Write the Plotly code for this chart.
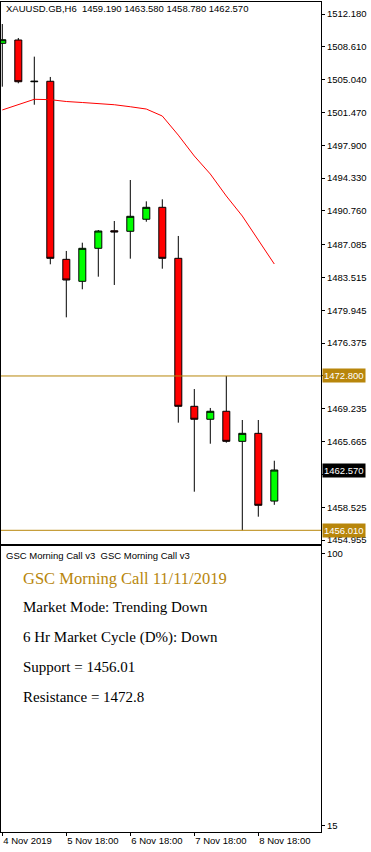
import plotly.graph_objects as go

# ---- data (XAUUSD H6) ----
bar_times = ["4 Nov 18:00", "5 Nov 00:00", "5 Nov 06:00", "5 Nov 12:00", "5 Nov 18:00",
             "6 Nov 00:00", "6 Nov 06:00", "6 Nov 12:00", "6 Nov 18:00", "7 Nov 00:00",
             "7 Nov 06:00", "7 Nov 12:00", "7 Nov 18:00", "8 Nov 00:00", "8 Nov 06:00",
             "8 Nov 12:00", "8 Nov 18:00", "11 Nov 00:00"]
opens = [1508.99, 1509.35, 1504.81, 1504.86, 1485.49, 1483.10, 1486.69, 1488.60, 1488.54,
         1489.85, 1491.15, 1485.60, 1469.50, 1468.09, 1468.96, 1465.69, 1466.56, 1459.19]
highs = [1511.09, 1509.57, 1507.54, 1505.33, 1486.40, 1487.30, 1488.68, 1489.66, 1494.12,
         1491.80, 1492.02, 1488.03, 1471.38, 1469.32, 1472.80, 1468.01, 1468.01, 1463.58]
lows = [1504.27, 1504.64, 1502.31, 1484.95, 1479.18, 1482.23, 1483.60, 1482.70, 1485.56,
        1489.58, 1484.47, 1467.72, 1460.21, 1465.43, 1465.54, 1456.01, 1457.49, 1458.78]
closes = [1509.38, 1504.81, 1504.86, 1485.60, 1483.24, 1486.69, 1488.57, 1488.47, 1490.17,
          1491.15, 1485.60, 1469.50, 1468.09, 1468.96, 1465.69, 1466.56, 1458.73, 1462.57]
ma_values = [1501.74, 1502.33, 1502.90, 1502.86, 1502.66, 1502.55, 1502.46, 1502.31, 1502.09,
             1501.84, 1501.08, 1499.00, 1496.73, 1494.77, 1492.38, 1490.20, 1487.59, 1484.98]

support = 1456.01
resistance = 1472.80
last_price = 1462.57

price_ticks = [1512.180, 1508.610, 1505.040, 1501.470, 1497.900, 1494.330, 1490.760,
               1487.085, 1483.515, 1479.945, 1476.375, 1472.805, 1469.235, 1465.665,
               1462.095, 1458.525, 1454.955]
hidden_ticks = [1472.805, 1462.095]   # covered by the price boxes
sub_ticks = [100, 15]
x_tick_idx = [0, 4, 8, 12, 16]
x_tick_labels = ["4 Nov 2019", "5 Nov 18:00", "6 Nov 18:00", "7 Nov 18:00", "8 Nov 18:00"]

header = "XAUUSD.GB,H6\u00a0 1459.190 1463.580 1458.780 1462.570"
ind_name = "GSC Morning Call v3\u00a0 GSC Morning Call v3"
title_line = "GSC Morning Call 11/11/2019"
info_lines = ["Market Mode: Trending Down",
              "6 Hr Market Cycle (D%): Down",
              "Support = 1456.01",
              "Resistance = 1472.8"]

GOLD = "#B8860B"
SANS = "Liberation Sans, Arial, sans-serif"
SERIF = "Liberation Serif, Times New Roman, serif"
FS = 9.5

W, H = 371, 852
ML, MR, MT, MB = 1, 50, 2, 20
PH = H - MT - MB


def py(pix):  # pixel y -> paper y
    return (H - MB - pix) / PH


def px(pix):  # pixel x -> paper x
    return (pix - ML) / (W - ML - MR)


idx = list(range(len(bar_times)))

fig = go.Figure()
fig.add_trace(go.Candlestick(
    x=idx, open=opens, high=highs, low=lows, close=closes,
    increasing=dict(line=dict(color="black", width=1), fillcolor="#00FF00"),
    decreasing=dict(line=dict(color="black", width=1), fillcolor="#FF0000"),
    whiskerwidth=0, showlegend=False, hoverinfo="skip",
    xaxis="x", yaxis="y"))
fig.add_trace(go.Scatter(
    x=idx, y=ma_values, mode="lines", line=dict(color="#FF0000", width=1),
    showlegend=False, hoverinfo="skip", xaxis="x", yaxis="y"))
# empty indicator pane trace (keeps the lower pane's axes)
fig.add_trace(go.Scatter(x=[], y=[], mode="lines", showlegend=False,
                         hoverinfo="skip", xaxis="x2", yaxis="y2"))

xr = [(ML - 2.3) / 16, (W - MR - 2.3) / 16]

fig.update_layout(
    width=W, height=H, margin=dict(l=ML, r=MR, t=MT, b=MB),
    paper_bgcolor="white", plot_bgcolor="white", showlegend=False,
    boxgap=0.375,
    font=dict(family=SANS, size=FS, color="black"),
    xaxis=dict(domain=[0, 1], anchor="y", range=xr, showgrid=False, zeroline=False,
               showline=True, mirror=True, linecolor="black", linewidth=1,
               showticklabels=False, ticks="", rangeslider=dict(visible=False)),
    yaxis=dict(domain=[py(544), 1], anchor="x", side="right",
               range=[1454.52, 1513.485], showgrid=False, zeroline=False,
               showline=True, mirror=True, linecolor="black", linewidth=1,
               tickvals=price_ticks,
               ticktext=["" if v in hidden_ticks else f"{v:.3f}" for v in price_ticks],
               ticks="outside", ticklen=3, tickcolor="black",
               tickfont=dict(family=SANS, size=FS, color="black")),
    xaxis2=dict(domain=[0, 1], anchor="y2", matches="x", range=xr, showgrid=False,
                zeroline=False, showline=True, mirror=True, linecolor="black", linewidth=1,
                tickvals=x_tick_idx, ticktext=x_tick_labels, ticks="outside", ticklen=3,
                tickcolor="black", ticklabelposition="outside right",
                tickfont=dict(family=SANS, size=FS, color="black")),
    yaxis2=dict(domain=[0, py(546)], anchor="x2", side="right", range=[13.03, 102.28],
                showgrid=False, zeroline=False, showline=True, mirror=True,
                linecolor="black", linewidth=1, tickvals=sub_ticks,
                ticktext=[str(v) for v in sub_ticks], ticks="outside", ticklen=3,
                tickcolor="black", tickfont=dict(family=SANS, size=FS, color="black")),
)

for lvl in (resistance, support):
    fig.add_shape(type="line", xref="x domain", yref="y", x0=0, x1=1, y0=lvl, y1=lvl,
                  line=dict(color=GOLD, width=1))

ann = []
ann.append(dict(xref="paper", yref="paper", x=px(4), y=py(8.5), xanchor="left",
                yanchor="middle", text=header, showarrow=False,
                font=dict(family=SANS, size=FS, color="black")))
for val, bg in ((resistance, GOLD), (support, GOLD), (last_price, "black")):
    ann.append(dict(xref="paper", yref="y", x=px(321.5), y=val, xanchor="left",
                    yanchor="middle", text=f"{val:.3f}", showarrow=False,
                    bgcolor=bg, borderpad=1,
                    font=dict(family=SANS, size=FS, color="white")))
ann.append(dict(xref="paper", yref="paper", x=px(4), y=py(555.5), xanchor="left",
                yanchor="middle", text=ind_name, showarrow=False,
                font=dict(family=SANS, size=FS, color="black")))
ann.append(dict(xref="paper", yref="paper", x=px(20.5), y=py(578), xanchor="left",
                yanchor="middle", text=title_line, showarrow=False,
                font=dict(family=SERIF, size=16.5, color=GOLD)))
for i, line in enumerate(info_lines):
    ann.append(dict(xref="paper", yref="paper", x=px(20.5), y=py(607 + 30 * i),
                    xanchor="left", yanchor="middle", text=line, showarrow=False,
                    font=dict(family=SERIF, size=15, color="black")))
fig.update_layout(annotations=ann)

fig.write_html("out.html", config={"displayModeBar": False},
               post_script="document.body.style.margin='0';document.body.style.overflow='hidden';")
